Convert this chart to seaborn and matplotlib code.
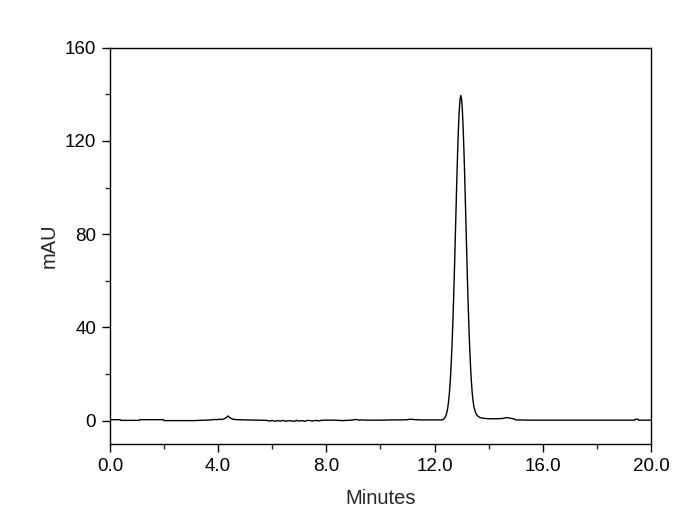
import numpy as np
import pandas as pd
import matplotlib
matplotlib.use("Agg")
import matplotlib.pyplot as plt
from matplotlib.ticker import MultipleLocator, FormatStrFormatter
import seaborn as sns

# Baseline before the main peak (minutes, mAU)
base_time = [0.0, 0.38, 0.40, 1.08, 1.10, 1.98, 2.00, 3.10, 3.75, 3.85, 3.95, 4.05, 4.15, 4.25,
             4.32, 4.36, 4.40, 4.46, 4.55, 4.70, 5.00, 5.50, 5.80, 5.90, 6.00, 6.10, 6.20, 6.30,
             6.40, 6.50, 6.60, 6.70, 6.80, 6.90, 7.00, 7.10, 7.20, 7.30, 7.40, 7.50, 7.60, 7.70,
             7.90, 8.30, 8.60, 8.90, 9.10, 9.20, 9.30, 9.50, 10.00, 10.50, 10.80, 11.00, 11.10,
             11.20, 11.30, 11.50, 11.80, 12.10]
base_mau = [0.4, 0.4, 0.1, 0.1, 0.4, 0.4, 0.0, 0.0, 0.3, 0.5, 0.4, 0.6, 0.5, 0.9,
            1.5, 2.0, 1.6, 1.0, 0.6, 0.4, 0.3, 0.2, 0.1, -0.2, 0.1, -0.3, 0.0, -0.2,
            0.1, -0.3, 0.0, -0.1, -0.3, 0.1, -0.2, 0.0, -0.3, 0.1, 0.0, -0.2, 0.1, -0.1,
            0.2, 0.2, 0.0, 0.2, 0.5, 0.2, 0.3, 0.2, 0.2, 0.3, 0.3, 0.4, 0.6,
            0.5, 0.4, 0.3, 0.3, 0.3]

# Main peak around 13 min
peak_time = [12.25, 12.31, 12.37, 12.42, 12.46, 12.49, 12.52, 12.55, 12.58, 12.61, 12.64,
             12.67, 12.70, 12.73, 12.76, 12.79, 12.82, 12.85, 12.88, 12.91, 12.94, 12.97,
             13.00, 13.03, 13.06, 13.09, 13.12, 13.15, 13.18, 13.21, 13.24, 13.27, 13.30,
             13.33, 13.36, 13.39, 13.42, 13.46, 13.52, 13.58, 13.68, 13.80]
peak_mau = [0.3, 0.4, 1.0, 2.1, 3.8, 5.7, 8.4, 12.1, 17.0, 23.2, 30.9,
            40.1, 50.8, 62.8, 75.7, 89.0, 102.2, 114.3, 124.7, 132.7, 137.8, 139.5,
            137.8, 132.7, 124.7, 114.3, 102.2, 89.0, 75.7, 62.8, 50.8, 40.1, 30.9,
            23.2, 17.0, 12.1, 8.6, 5.6, 3.3, 2.1, 1.3, 1.0]

# Tail after the peak
tail_time = [14.00, 14.30, 14.50, 14.62, 14.70, 14.80, 14.92, 15.00, 15.50, 16.00, 17.00,
             18.00, 19.00, 19.40, 19.42, 19.52, 19.54, 20.00]
tail_mau = [0.8, 0.8, 0.9, 1.2, 1.3, 1.0, 0.8, 0.3, 0.2, 0.2, 0.2,
            0.2, 0.2, 0.2, 0.6, 0.6, 0.2, 0.2]

df = pd.DataFrame({
    'Minutes': base_time + peak_time + tail_time,
    'mAU': base_mau + peak_mau + tail_mau,
})

sns.set_style("ticks")
plt.rcParams['font.family'] = ['Liberation Sans', 'DejaVu Sans']

fig = plt.figure(figsize=(7, 5.31), dpi=100)
ax = fig.add_axes([0.157, 0.164, 0.773, 0.746])
sns.lineplot(data=df, x='Minutes', y='mAU', color='black', linewidth=1.0, ax=ax,
             sort=False, estimator=None)

ax.set_xlim(0, 20)
ax.set_ylim(-10, 160)
ax.xaxis.set_major_locator(MultipleLocator(4))
ax.xaxis.set_minor_locator(MultipleLocator(2))
ax.yaxis.set_major_locator(MultipleLocator(40))
ax.yaxis.set_minor_locator(MultipleLocator(20))
ax.xaxis.set_major_formatter(FormatStrFormatter('%.1f'))
ax.yaxis.set_major_formatter(FormatStrFormatter('%d'))
ax.tick_params(which='major', direction='out', length=6, width=1, labelsize=13.5,
               colors='black', pad=4)
ax.tick_params(which='minor', direction='out', length=3.5, width=1)
ax.tick_params(top=False, right=False, which='both')
for s in ax.spines.values():
    s.set_linewidth(1.0)
    s.set_color('black')

ax.set_xlabel('Minutes', fontsize=14.5, labelpad=10)
ax.set_ylabel('mAU', fontsize=14.5, labelpad=4)

fig.savefig('out.png', dpi=100)
